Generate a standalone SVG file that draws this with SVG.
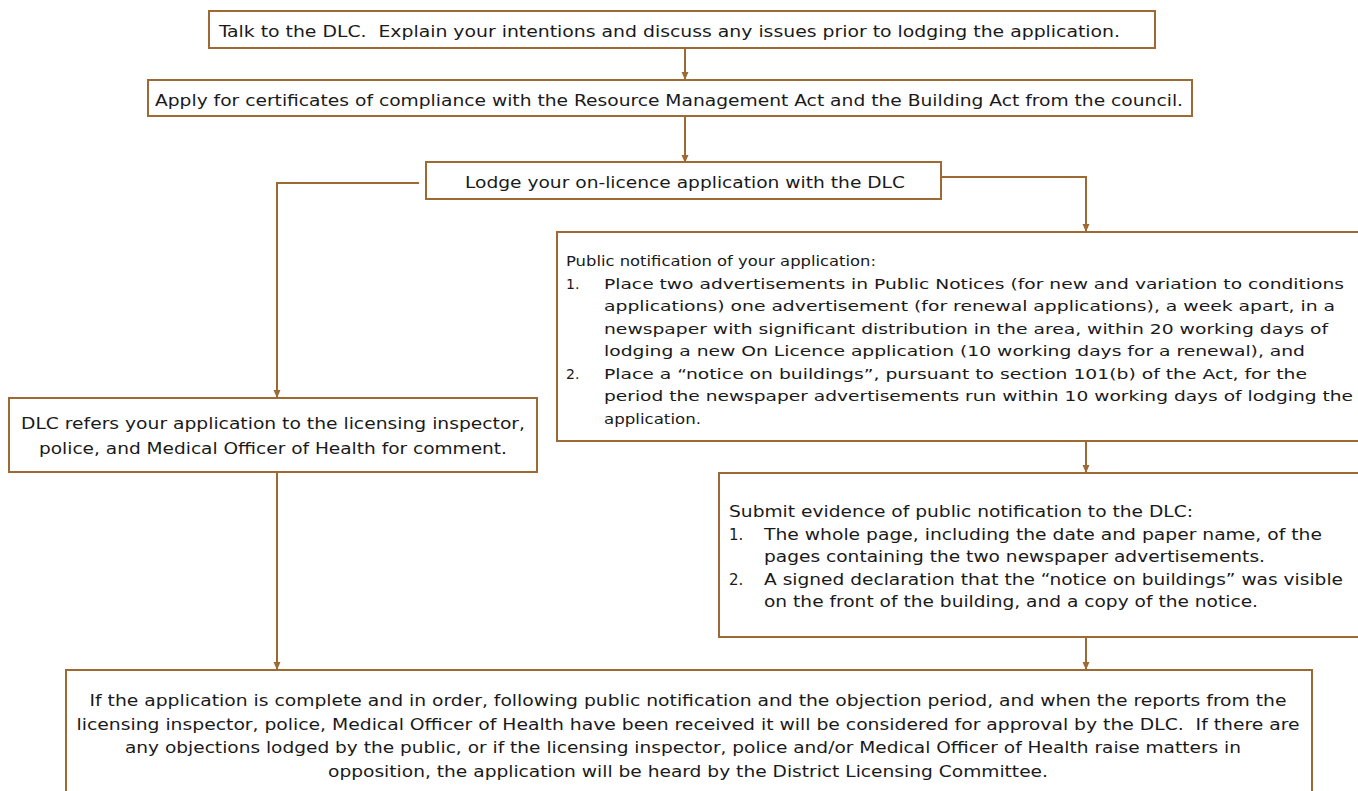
<svg xmlns="http://www.w3.org/2000/svg" width="1358" height="791" viewBox="0 0 1358 791">
<defs>
<style>
.box{fill:#fff;stroke:#9E6A34;stroke-width:2}
.ln{fill:none;stroke:#9E6A34;stroke-width:2}
.b{font-family:"DejaVu Sans Condensed","DejaVu Sans",sans-serif;font-size:16.5px;fill:#1a1a1a}
.t{font-family:"DejaVu Sans","Liberation Sans",sans-serif;font-size:14px;fill:#1a1a1a}
.c{font-family:"DejaVu Sans","Liberation Sans",sans-serif;font-size:15px;fill:#1a1a1a}
</style>
<marker id="ah" markerWidth="8" markerHeight="8" refX="7" refY="4" orient="auto" markerUnits="userSpaceOnUse">
<path d="M0,0.5 L8,4 L0,7.5 Z" fill="#9E6A34"/>
</marker>
</defs>
<rect width="1358" height="791" fill="#fff"/>
<g id="connectors">
<line class="ln" x1="685" y1="48" x2="685" y2="79" marker-end="url(#ah)"/>
<line class="ln" x1="685" y1="116" x2="685" y2="162" marker-end="url(#ah)"/>
<polyline class="ln" points="941,177 1086,177 1086,231" marker-end="url(#ah)"/>
<polyline class="ln" points="419,183 277,183 277,397" marker-end="url(#ah)"/>
<line class="ln" x1="1086" y1="441" x2="1086" y2="472" marker-end="url(#ah)"/>
<line class="ln" x1="277" y1="473" x2="277" y2="669" marker-end="url(#ah)"/>
<line class="ln" x1="1086" y1="637" x2="1086" y2="669" marker-end="url(#ah)"/>
</g>
<g id="n1">
<rect class="box" x="209" y="11" width="946" height="37"/>
<text class="b" x="219" y="37" textLength="901" lengthAdjust="spacingAndGlyphs" xml:space="preserve">Talk to the DLC.  Explain your intentions and discuss any issues prior to lodging the application.</text>
</g>
<g id="n2">
<rect class="box" x="148" y="80" width="1044" height="36"/>
<text class="b" x="155" y="106" textLength="1028" lengthAdjust="spacingAndGlyphs">Apply for certificates of compliance with the Resource Management Act and the Building Act from the council.</text>
</g>
<g id="n3">
<rect class="box" x="426" y="162" width="515" height="37"/>
<text class="b" x="465" y="188" textLength="440" lengthAdjust="spacingAndGlyphs">Lodge your on-licence application with the DLC</text>
</g>
<g id="n4">
<rect class="box" x="557" y="232" width="820" height="209"/>
<text class="t" x="566" y="266" textLength="310" lengthAdjust="spacingAndGlyphs">Public notification of your application:</text>
<text class="t" x="566" y="288.5">1.</text>
<text class="t" x="604" y="288.5" textLength="740" lengthAdjust="spacingAndGlyphs">Place two advertisements in Public Notices (for new and variation to conditions</text>
<text class="t" x="604" y="311" textLength="731" lengthAdjust="spacingAndGlyphs">applications) one advertisement (for renewal applications), a week apart, in a</text>
<text class="t" x="604" y="333.5" textLength="724" lengthAdjust="spacingAndGlyphs">newspaper with significant distribution in the area, within 20 working days of</text>
<text class="t" x="604" y="356" textLength="701" lengthAdjust="spacingAndGlyphs">lodging a new On Licence application (10 working days for a renewal), and</text>
<text class="t" x="566" y="378.5">2.</text>
<text class="t" x="604" y="378.5" textLength="703" lengthAdjust="spacingAndGlyphs">Place a “notice on buildings”, pursuant to section 101(b) of the Act, for the</text>
<text class="t" x="604" y="401" textLength="749" lengthAdjust="spacingAndGlyphs">period the newspaper advertisements run within 10 working days of lodging the</text>
<text class="t" x="604" y="423.5" textLength="97" lengthAdjust="spacingAndGlyphs">application.</text>
</g>
<g id="n5">
<rect class="box" x="9" y="398" width="528" height="74"/>
<text class="b" x="273" y="429" text-anchor="middle" textLength="504" lengthAdjust="spacingAndGlyphs">DLC refers your application to the licensing inspector,</text>
<text class="b" x="273" y="454" text-anchor="middle" textLength="468" lengthAdjust="spacingAndGlyphs">police, and Medical Officer of Health for comment.</text>
</g>
<g id="n7">
<rect class="box" x="719" y="473" width="660" height="164"/>
<text class="c" x="729" y="517" textLength="464" lengthAdjust="spacingAndGlyphs">Submit evidence of public notification to the DLC:</text>
<text class="c" x="729" y="539.5">1.</text>
<text class="c" x="764" y="539.5" textLength="558" lengthAdjust="spacingAndGlyphs">The whole page, including the date and paper name, of the</text>
<text class="c" x="764" y="562" textLength="501" lengthAdjust="spacingAndGlyphs">pages containing the two newspaper advertisements.</text>
<text class="c" x="729" y="584.5">2.</text>
<text class="c" x="764" y="584.5" textLength="579" lengthAdjust="spacingAndGlyphs">A signed declaration that the “notice on buildings” was visible</text>
<text class="c" x="764" y="607" textLength="494" lengthAdjust="spacingAndGlyphs">on the front of the building, and a copy of the notice.</text>
</g>
<g id="n6">
<rect class="box" x="66" y="670" width="1246" height="140"/>
<text class="b" x="688" y="706" text-anchor="middle" textLength="1197" lengthAdjust="spacingAndGlyphs">If the application is complete and in order, following public notification and the objection period, and when the reports from the</text>
<text class="b" x="688" y="729.5" text-anchor="middle" textLength="1223" lengthAdjust="spacingAndGlyphs" xml:space="preserve">licensing inspector, police, Medical Officer of Health have been received it will be considered for approval by the DLC.  If there are</text>
<text class="b" x="683" y="753" text-anchor="middle" textLength="1116" lengthAdjust="spacingAndGlyphs">any objections lodged by the public, or if the licensing inspector, police and/or Medical Officer of Health raise matters in</text>
<text class="b" x="688" y="776.5" text-anchor="middle" textLength="720" lengthAdjust="spacingAndGlyphs">opposition, the application will be heard by the District Licensing Committee.</text>
</g>
</svg>
